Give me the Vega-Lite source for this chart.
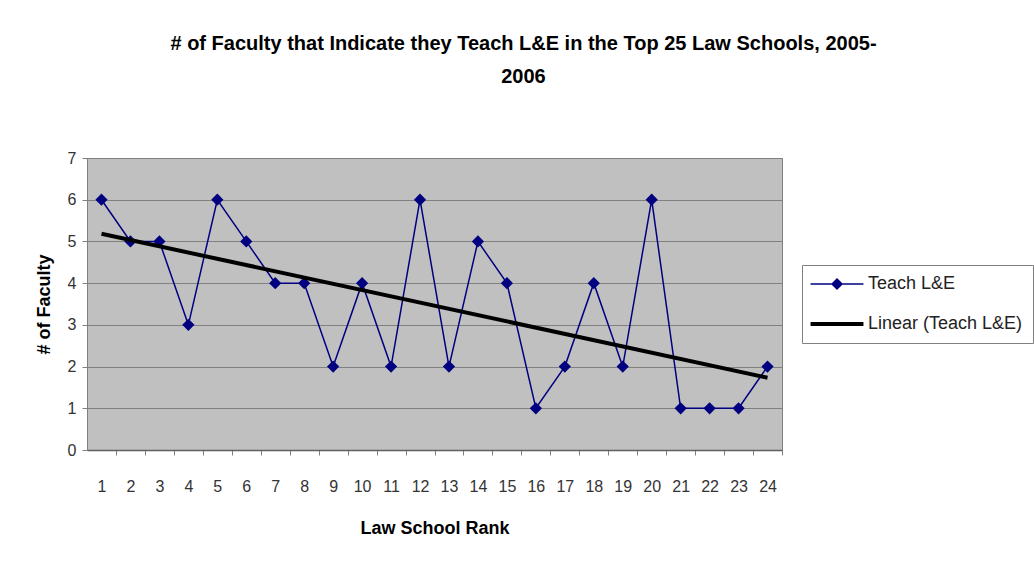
{
  "$schema": "https://vega.github.io/schema/vega-lite/v6.json",
  "width": 695,
  "height": 292,
  "autosize": {"type": "none"},
  "padding": {"left": 87, "top": 158, "right": 252, "bottom": 123},
  "background": "white",
  "title": {
    "text": ["# of Faculty that Indicate they Teach L&E in the Top 25 Law Schools, 2005-", "2006"],
    "font": "Liberation Sans",
    "fontSize": 20,
    "fontWeight": "bold",
    "color": "#000000",
    "anchor": "middle",
    "dx": 89,
    "lineHeight": 33,
    "offset": 63
  },
  "config": {
    "font": "Liberation Sans",
    "view": {"fill": "#c0c0c0", "stroke": "#808080", "strokeWidth": 1}
  },
  "data": {
    "values": [
      {"rank": 1, "faculty": 6}, {"rank": 2, "faculty": 5}, {"rank": 3, "faculty": 5},
      {"rank": 4, "faculty": 3}, {"rank": 5, "faculty": 6}, {"rank": 6, "faculty": 5},
      {"rank": 7, "faculty": 4}, {"rank": 8, "faculty": 4}, {"rank": 9, "faculty": 2},
      {"rank": 10, "faculty": 4}, {"rank": 11, "faculty": 2}, {"rank": 12, "faculty": 6},
      {"rank": 13, "faculty": 2}, {"rank": 14, "faculty": 5}, {"rank": 15, "faculty": 4},
      {"rank": 16, "faculty": 1}, {"rank": 17, "faculty": 2}, {"rank": 18, "faculty": 4},
      {"rank": 19, "faculty": 2}, {"rank": 20, "faculty": 6}, {"rank": 21, "faculty": 1},
      {"rank": 22, "faculty": 1}, {"rank": 23, "faculty": 1}, {"rank": 24, "faculty": 2}
    ]
  },
  "encoding": {
    "x": {
      "field": "rank", "type": "quantitative",
      "scale": {"domain": [0.5, 24.5], "nice": false, "zero": false},
      "axis": {
        "title": "Law School Rank",
        "values": [0,1,2,3,4,5,6,7,8,9,10,11,12,13,14,15,16,17,18,19,20,21,22,23,24],
        "labelExpr": "datum.value == 0 ? '' : datum.label",
        "tickOffset": 14.48,
        "labelOffset": -14.48,
        "grid": false,
        "domainColor": "#606060",
        "domainWidth": 1.5,
        "tickColor": "#808080",
        "tickSize": 5,
        "labelFontSize": 16,
        "labelColor": "#333333",
        "labelPadding": 23,
        "labelFlush": false,
        "labelOverlap": false,
        "titleFontSize": 18,
        "titleFontWeight": "bold",
        "titleColor": "#000000",
        "titlePadding": 25
      }
    },
    "y": {
      "field": "faculty", "type": "quantitative",
      "scale": {"domain": [0, 7], "nice": false},
      "axis": {
        "title": "# of Faculty",
        "values": [0,1,2,3,4,5,6,7],
        "grid": true,
        "gridColor": "#808080",
        "gridWidth": 1,
        "domainColor": "#808080",
        "tickColor": "#808080",
        "tickSize": 5,
        "labelFontSize": 16,
        "labelColor": "#333333",
        "labelPadding": 6,
        "titleFontSize": 18,
        "titleFontWeight": "bold",
        "titleColor": "#000000",
        "titlePadding": 14
      }
    }
  },
  "layer": [
    {
      "mark": {"type": "line", "strokeWidth": 1.5},
      "encoding": {
        "color": {
          "datum": "Teach L&E",
          "type": "nominal",
          "scale": {"domain": ["Teach L&E", "Linear (Teach L&E)"], "range": ["#000080", "#000000"]},
          "legend": {
            "title": null,
            "orient": "none",
            "legendX": 715,
            "legendY": 107,
            "direction": "vertical",
            "strokeColor": "#808080",
            "fillColor": "white",
            "padding": 10,
            "symbolType": "M-4,0H4",
            "symbolSize": 175,
            "symbolOffset": 16,
            "labelOffset": 22,
            "labelFontSize": 18,
            "labelColor": "#222222",
            "rowPadding": 22,
            "labelLimit": 300,
            "encode": {
              "symbols": {
                "update": {
                  "shape": {"signal": "datum.label === 'Teach L&E' ? 'M-4,0H4M-0.75,0L0,-0.75L0.75,0L0,0.75Z' : 'M-4,0H4'"},
                  "strokeWidth": {"signal": "datum.label === 'Teach L&E' ? 1.5 : 4"},
                  "stroke": {"signal": "datum.label === 'Teach L&E' ? '#000080' : '#000000'"},
                  "fill": {"signal": "datum.label === 'Teach L&E' ? '#000080' : '#000000'"},
                  "fillOpacity": {"value": 1},
                  "opacity": {"value": 1}
                }
              }
            }
          }
        }
      }
    },
    {
      "mark": {"type": "point", "shape": "diamond", "filled": true, "size": 150, "opacity": 1, "color": "#000080"},
      "encoding": {}
    },
    {
      "transform": [{"regression": "faculty", "on": "rank", "method": "linear", "extent": [1, 24]}],
      "mark": {"type": "line", "strokeWidth": 4, "color": "#000000"},
      "encoding": {
        "color": {"datum": "Linear (Teach L&E)", "type": "nominal"}
      }
    }
  ]
}
